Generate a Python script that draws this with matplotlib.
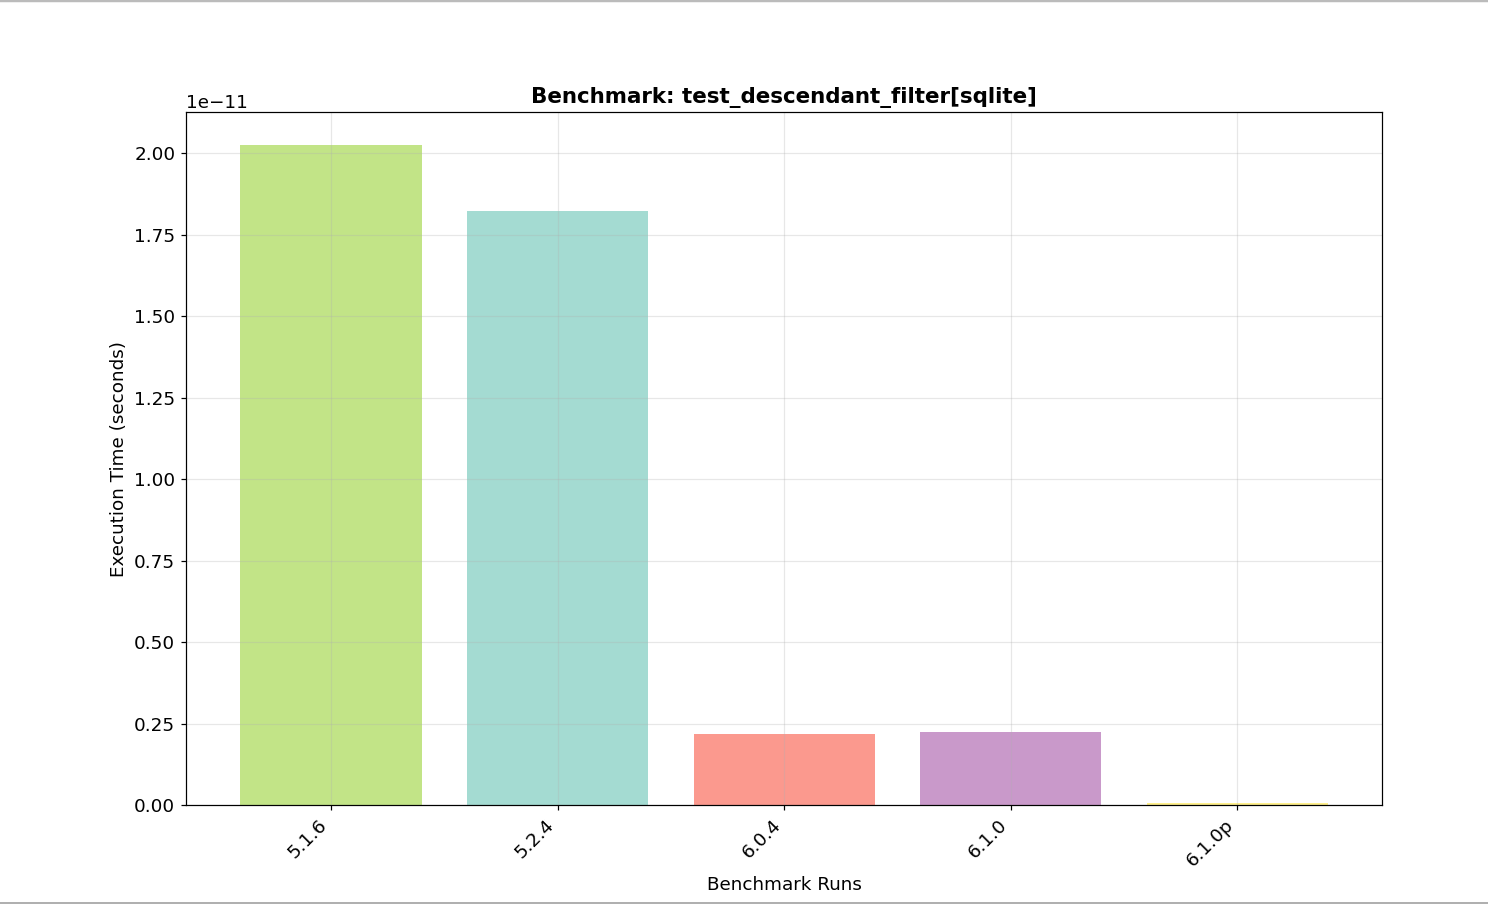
import numpy as np
import matplotlib
matplotlib.use('Agg')
import matplotlib.pyplot as plt
from matplotlib.lines import Line2D

# Benchmark data (seconds)
runs = ['5.1.6', '5.2.4', '6.0.4', '6.1.0', '6.1.0p']
times = [2.025e-11, 1.822e-11, 0.219e-11, 0.223e-11, 0.005e-11]
colors = ['#b3de69', '#8dd3c7', '#fb8072', '#bc80bd', '#ffed6f']

DPI = 110
fig, ax = plt.subplots(figsize=(1488 / DPI, 906 / DPI), dpi=DPI)
fig.subplots_adjust(left=0.125, right=0.929, top=0.876, bottom=0.1115)

x = np.arange(len(runs))
ax.bar(x, times, color=colors, alpha=0.8, width=0.8)

ax.set_xticks(x)
ax.set_xticklabels(runs, rotation=45, ha='right', fontsize=12)
ax.tick_params(axis='y', labelsize=12)
ax.yaxis.get_offset_text().set_fontsize(12)
ax.set_xlabel('Benchmark Runs', fontsize=12)
ax.set_ylabel('Execution Time (seconds)', fontsize=12)
ax.set_title('Benchmark: test_descendant_filter[sqlite]', fontsize=14, fontweight='bold')
ax.grid(True, alpha=0.3)

# screenshot frame lines
fig.add_artist(Line2D([0, 1], [0.999, 0.999], color='#bbbbbb', lw=1.6, transform=fig.transFigure))
fig.add_artist(Line2D([0, 1], [0.003, 0.003], color='#aaaaaa', lw=1.2, transform=fig.transFigure))

fig.savefig('out.png', dpi=DPI)
